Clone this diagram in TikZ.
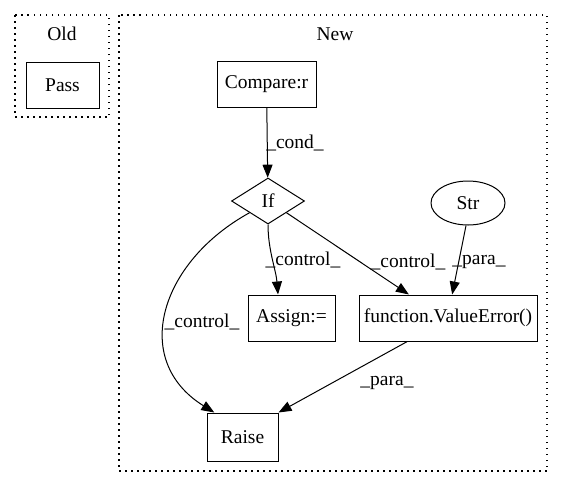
\documentclass[tikz,border=0pt]{standalone}
\usepackage{fontspec}
\setmainfont{Liberation Serif}
\usetikzlibrary{shapes.geometric,arrows.meta}
\begin{document}
\begin{tikzpicture}[x=1pt,y=1pt,
  every node/.style={font=\fontsize{19.5}{22}\selectfont},
  box/.style={draw,line width=1pt,rectangle,minimum height=46pt,inner sep=0pt},
  cluster/.style={draw,line width=1.3pt,dash pattern=on 1.5pt off 4.5pt},
  edge/.style={line width=1pt,-{Triangle[length=13pt,width=10pt]}},
  lbl/.style={inner sep=0pt}]
\useasboundingbox (0,0) rectangle (564,-488);

% clusters
\draw[cluster] (15,-15) rectangle (109,-117);
\node[lbl] (oldlbl) at (62,-34) {Old};
\draw[cluster] (119,-15) rectangle (547,-471);
\node[lbl] (newlbl) at (335,-34) {New};

% nodes
\node[box,minimum width=73pt] (pass) at (62.5,-85) {Pass};
\node[box,minimum width=99pt] (cmp) at (266.5,-84) {Compare:r};
\node[draw,line width=1pt,diamond,aspect=1.6,minimum width=73pt,minimum height=46pt,inner sep=0pt] (if) at (268,-201) {If};
\node[draw,line width=1pt,ellipse,minimum width=74pt,minimum height=44pt,inner sep=0pt] (str) at (468,-203) {Str};
\node[box,minimum width=87pt] (asg) at (291.5,-318) {Assign:=};
\node[box,minimum width=178pt] (ve) at (448,-318) {function.ValueError()};
\node[box,minimum width=71pt,minimum height=48pt] (raise) at (242.5,-437) {Raise};

% edges
\draw[edge] (cmp) -- (if);
\draw[edge] (if.south) .. controls (268,-250) and (276,-270) .. (asg.north -| 278,0);
\draw[edge] (if.south east) -- (ve.149);
\draw[edge] (str.265) -- (ve.80);
\draw[edge] (if.south west) .. controls (160,-262) and (130,-360) .. (raise.139);
\draw[edge] (ve.210) -- (raise.north east);

% edge labels
\node[lbl] (l1) at (295,-143) {\_cond\_};
\node[lbl] (l2) at (202,-322) {\_control\_};
\node[lbl] (l3) at (303,-260) {\_control\_};
\node[lbl] (l4) at (408,-262) {\_control\_};
\node[lbl] (l5) at (479,-262) {\_para\_};
\node[lbl] (l6) at (387,-383) {\_para\_};
\end{tikzpicture}
\end{document}
